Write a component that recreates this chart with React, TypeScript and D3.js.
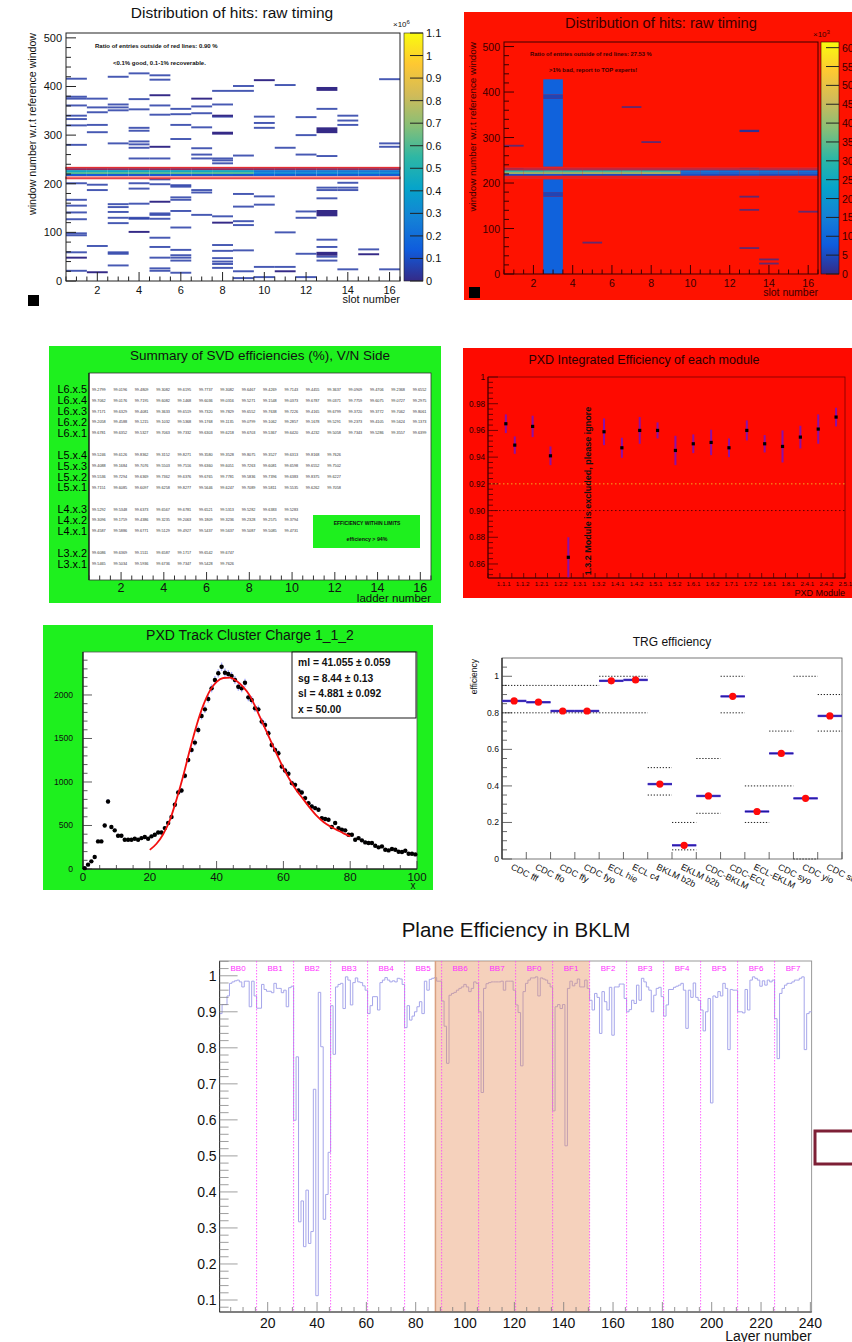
import React from 'react';
import * as d3 from 'd3';

const FONT = '"Liberation Sans", Arial, Helvetica, sans-serif';

// ROOT kBird palette stops
const birdColors = ['#352a87', '#0f5cdd', '#1481d6', '#06a4ca', '#2eb7a4', '#87bf77', '#d1bb59', '#fec832', '#f9fb0e'];

// ---------- raw timing panels (slots 1..16, windows in bins of 4) ----------
const bandWindows = [216, 220, 224, 228];

// good run: lower window edge of each sparse hit, per slot
const goodHits = [
  [414, 377, 373, 359, 338, 331, 318, 278, 199, 165, 153, 139, 125, 96, 92, 57, 19],
  [373, 355, 345, 319, 304, 196, 185, 70],
  [418, 361, 355, 349, 281, 156, 150, 140, 128, 117, 57, 54, 30],
  [425, 372, 351, 313, 307, 285, 279, 272, 250, 199, 188, 157, 128, 126],
  [421, 412, 359, 340, 250, 207, 197, 137, 134, 126, 87, 68, 46, 24, 19],
  [352, 341, 319, 290, 195, 192, 170, 165, 142, 108, 62, 51, 46, 40, 15],
  [357, 343, 314, 271, 258, 250, 185, 180, 134],
  [389, 361, 336, 250, 246, 240, 131, 72, 60, 45, 38, 33, 25],
  [399, 389, 256, 177, 151, 121, 113, 61, 18, 4],
  [336, 323, 313, 172, 155, 27, 6],
  [401, 272, 98, 27],
  [335, 298, 258, 141, 128, 54, 6],
  [352, 255, 190, 185, 168, 83, 68, 48, 40],
  [338, 328, 319, 200, 190, 185, 22],
  [63],
  [413, 281, 274, 22],
];
// [slot, from, to] denser hits
const goodThick = [
  [1, 46, 50], [2, 16, 20], [4, 99, 103], [5, 380, 384], [5, 274, 278], [5, 161, 165],
  [7, 373, 377], [8, 338, 342], [8, 301, 307], [8, 118, 122], [10, 411, 415], [11, 18, 22],
  [13, 391, 399], [13, 304, 316], [13, 133, 146], [13, 52, 60], [15, 53, 57],
];
// rows = bandWindows, values x10^6
const goodBand = [
  [0.12, 0.13, 0.12, 0.11, 0.12, 0.13, 0.12, 0.12, 0.11, 0.14, 0.13, 0.12, 0.13, 0.12, 0.13, 0.12],
  [0.6, 0.62, 0.6, 0.61, 0.6, 0.62, 0.6, 0.61, 0.6, 0.3, 0.31, 0.3, 0.32, 0.3, 0.31, 0.3],
  [0.45, 0.46, 0.44, 0.45, 0.46, 0.45, 0.44, 0.46, 0.45, 0.24, 0.25, 0.24, 0.26, 0.25, 0.24, 0.25],
  [0.03, 0.03, 0.04, 0.03, 0.03, 0.03, 0.03, 0.04, 0.03, 0.03, 0.03, 0.03, 0.04, 0.03, 0.03, 0.03],
];

// bad run
const badHits = [
  [280, 229], [], [], [], [67], [], [365], [288], [], [], [], [],
  [230, 168, 139, 55], [30, 21], [], [135],
];
const badThick = [[13, 312, 317]];
// [slot, from, to, value x10^3]
const badColumn = [
  [3, 0, 170, 9], [3, 170, 180, 4], [3, 180, 208, 9],
  [3, 236, 385, 9], [3, 385, 395, 4], [3, 395, 428, 9],
];
const badBand = [
  [5, 5, 6, 5, 5, 5, 5, 5, 5, 6, 5, 5, 6, 5, 5, 5],
  [40, 40, 40, 40, 41, 40, 40, 41, 40, 11, 11, 10, 12, 11, 11, 10],
  [32, 32, 33, 32, 32, 32, 33, 32, 32, 13, 13, 12, 14, 13, 13, 12],
  [3, 3, 4, 3, 3, 3, 3, 3, 3, 3, 3, 3, 4, 3, 3, 3],
];

// ---------- SVD summary ----------
const svdL6 = [
  ['99.6781', '99.6352', '99.5327', '99.7063', '99.7332', '99.6303', '99.6218', '99.6703', '99.5367', '99.6420', '99.4232', '99.5058', '99.7343', '99.5286', '99.3557', '99.6399'],
  ['99.2058', '99.4588', '99.1215', '99.1032', '99.5368', '99.1768', '99.1135', '99.0799', '99.1062', '99.2857', '99.1678', '99.5291', '99.2373', '99.4105', '99.5624', '99.1373'],
  ['99.7171', '99.6329', '99.4081', '99.3633', '99.6519', '99.7320', '99.7829', '99.6552', '99.7638', '99.7226', '99.4165', '99.6799', '99.3720', '99.3772', '99.7062', '99.8061'],
  ['99.7062', '99.0176', '99.7195', '99.6082', '99.1468', '99.6036', '99.0316', '99.5271', '99.1548', '99.0373', '99.6787', '99.0371', '99.7759', '99.6075', '99.0727', '99.2975'],
  ['99.2799', '99.0196', '99.4809', '99.3082', '99.6195', '99.7737', '99.3082', '99.6467', '99.4269', '99.7143', '99.4455', '99.3637', '99.0909', '99.4706', '99.2368', '99.6552'],
];
const svdL5 = [
  ['99.7151', '99.6085', '99.6097', '99.6258', '99.8277', '99.5646', '99.6247', '99.7089', '99.5811', '99.5535', '99.6262', '99.7058'],
  ['99.5536', '99.7294', '99.6369', '99.7362', '99.6376', '99.6765', '99.7781', '99.5836', '99.7396', '99.6383', '99.8375', '99.6227'],
  ['99.4088', '99.1684', '99.7076', '99.5503', '99.7516', '99.6360', '99.6051', '99.7263', '99.6081', '99.6598', '99.6552', '99.7502'],
  ['99.5246', '99.6126', '99.8362', '99.3152', '99.8271', '99.3580', '99.3528', '99.8075', '99.3527', '99.6313', '99.8168', '99.7626'],
];
const svdL4 = [
  ['99.4587', '99.5886', '99.6771', '99.5129', '99.4927', '99.5437', '99.5637', '99.5087', '99.5085', '99.4731'],
  ['99.3096', '99.1759', '99.4386', '99.3235', '99.2063', '99.1809', '99.3236', '99.2328', '99.2575', '99.3794'],
  ['99.5292', '99.5348', '99.6373', '99.6567', '99.6781', '99.6521', '99.5313', '99.5282', '99.6383', '99.5283'],
];
const svdL3 = [
  ['99.5465', '99.5034', '99.5936', '99.6736', '99.7347', '99.5428', '99.7626'],
  ['99.6086', '99.6369', '99.1511', '99.6587', '99.1717', '99.6542', '99.6747'],
];
const svdLayerNames = ['L3', 'L4', 'L5', 'L6'];

// ---------- PXD efficiency ----------
const pxdLabels = ['1.1.1', '1.1.2', '1.2.1', '1.2.2', '1.3.1', '1.3.2', '1.4.1', '1.4.2', '1.5.1', '1.5.2', '1.6.1', '1.6.2', '1.7.1', '1.7.2', '1.8.1', '1.8.1', '2.4.1', '2.4.2', '2.5.1'];
const pxdPos = [1, 1.5, 2.5, 3.5, 4.5, 6.5, 7.5, 8.5, 9.5, 10.5, 11.5, 12.5, 13.5, 14.5, 15.5, 16.5, 17.5, 18.5, 19.5];
const pxdEff = [0.965, 0.949, 0.963, 0.941, 0.865, 0.959, 0.947, 0.960, 0.960, 0.945, 0.950, 0.951, 0.947, 0.960, 0.950, 0.948, 0.955, 0.961, 0.970];
const pxdErr = [0.007, 0.0065, 0.008, 0.007, 0.015, 0.010, 0.0075, 0.010, 0.006, 0.011, 0.007, 0.0095, 0.007, 0.0075, 0.0065, 0.012, 0.0085, 0.011, 0.007];

// ---------- PXD cluster charge ----------
const chargeCounts = [
  10, 50, 88, 138, 317, 317, 500, 776, 482, 444,
  382, 382, 337, 337, 337, 348, 337, 355, 367, 348,
  375, 394, 420, 420, 470, 528, 597, 738, 880, 902,
  1071, 1254, 1369, 1453, 1598, 1759, 1835, 1954, 2076, 2172,
  2249, 2325, 2256, 2241, 2218, 2172, 2095, 2076, 2141, 1973,
  1943, 1847, 1835, 1694, 1656, 1560, 1426, 1369, 1331, 1178,
  1132, 1094, 987, 967, 902, 880, 815, 757, 719, 700,
  681, 585, 574, 566, 482, 528, 470, 451, 444, 394,
  394, 337, 355, 329, 306, 298, 298, 268, 249, 260,
  222, 214, 229, 222, 199, 195, 210, 176, 176, 168,
];
const fitX = [20, 22, 24, 26, 28, 30, 32, 34, 36, 38, 40, 42, 44, 46, 48, 50, 52, 54, 56, 58, 60, 62, 64, 66, 68, 70, 72, 74, 76, 78, 80];
const fitY = [220, 290, 400, 560, 800, 1070, 1370, 1650, 1880, 2050, 2150, 2195, 2200, 2160, 2090, 1990, 1830, 1660, 1490, 1320, 1160, 1020, 900, 800, 700, 610, 540, 490, 450, 410, 375];
const fitStats = ['ml =  41.055 \u00b1 0.059', 'sg =  8.44 \u00b1 0.13', 'sl =  4.881 \u00b1 0.092', 'x =  50.00'];

// ---------- TRG efficiency ----------
const trgLabels = ['CDC fff', 'CDC ffo', 'CDC ffy', 'CDC fyo', 'ECL hie', 'ECL c4', 'BKLM b2b', 'EKLM b2b', 'CDC-BKLM', 'CDC-ECL', 'ECL-EKLM', 'CDC syo', 'CDC yio', 'CDC stt'];
const trgEff = [0.865, 0.858, 0.81, 0.81, 0.975, 0.98, 0.41, 0.075, 0.345, 0.89, 0.26, 0.578, 0.332, 0.783];
const trgUpper = [0.95, 0.95, 0.95, 0.95, 1, 1, 0.5, 0.2, 0.55, 1, 0.4, 0.7, 1, 0.9];
const trgLower = [0.8, 0.8, 0.8, 0.8, 0.8, 0.8, 0.35, 0.05, 0.25, 0.8, 0.2, 0.4, 0, 0.7];

// ---------- BKLM plane efficiency, 15 layers per sector ----------
const bklmSectors = ['BB0', 'BB1', 'BB2', 'BB3', 'BB4', 'BB5', 'BB6', 'BB7', 'BF0', 'BF1', 'BF2', 'BF3', 'BF4', 'BF5', 'BF6', 'BF7'];
const bklmSectorEff = [
  [0.895, 0.92, 0.92, 0.944, 0.979, 0.983, 0.986, 0.988, 0.983, 0.969, 0.985, 0.985, 0.914, 0.985, 0.944],
  [0.91, 0.91, 0.976, 0.962, 0.957, 0.957, 0.953, 0.979, 0.965, 0.965, 0.953, 0.96, 0.914, 0.967, 0.971],
  [0.599, 0.775, 0.317, 0.375, 0.248, 0.405, 0.257, 0.29, 0.685, 0.112, 0.954, 0.803, 0.324, 0.393, 0.51],
  [0.917, 0.782, 0.969, 0.976, 0.979, 0.909, 0.997, 0.988, 0.919, 0.981, 0.994, 0.983, 0.981, 0.972, 0.96],
  [0.895, 0.917, 0.942, 0.942, 0.905, 0.981, 0.988, 0.995, 0.988, 0.983, 0.986, 0.983, 0.993, 0.991, 0.976],
  [0.856, 0.917, 0.877, 0.888, 0.9, 0.914, 0.928, 0.895, 0.985, 0.96, 0.99, 0.993, 0.995, 0.985, 0.985],
  [0.93, 0.86, 0.757, 0.946, 0.951, 0.954, 0.96, 0.965, 0.969, 0.976, 0.969, 0.956, 0.965, 0.983, 0.979],
  [0.9, 0.676, 0.965, 0.978, 0.981, 0.983, 0.983, 0.983, 0.983, 0.985, 0.96, 0.985, 0.985, 0.985, 0.96],
  [0.919, 0.898, 0.75, 0.956, 0.979, 0.988, 0.994, 0.994, 0.997, 0.944, 0.994, 0.991, 0.988, 0.979, 0.969],
  [0.625, 0.914, 0.92, 0.909, 0.92, 0.528, 0.965, 0.985, 0.972, 0.979, 0.991, 0.969, 0.969, 0.988, 0.965],
  [0.932, 0.905, 0.951, 0.94, 0.84, 0.956, 0.928, 0.905, 0.968, 0.835, 0.969, 0.969, 0.977, 0.977, 0.937],
  [0.9, 0.906, 0.932, 0.923, 0.974, 0.932, 0.993, 0.983, 0.969, 0.96, 0.9, 0.946, 0.965, 0.968, 0.942],
  [0.888, 0.919, 0.962, 0.962, 0.968, 0.971, 0.974, 0.979, 0.96, 0.854, 0.96, 0.94, 0.98, 0.94, 0.932],
  [0.905, 0.847, 0.9, 0.937, 0.647, 0.944, 0.94, 0.956, 0.944, 0.979, 0.965, 0.795, 0.962, 0.96, 0.96],
  [0.9, 0.9, 0.897, 0.962, 0.905, 0.988, 0.997, 0.993, 0.988, 0.971, 0.986, 0.974, 0.988, 0.983, 0.988],
  [0.881, 0.77, 0.951, 0.965, 0.974, 0.979, 0.979, 0.983, 0.988, 0.988, 0.993, 0.997, 0.795, 0.895, 0.9],
];
const bklmShaded = [88, 150.5];

type RawCfg = {
  id: string;
  bg?: string;
  box?: number[];
  x0: number; x1: number; y0: number; y1: number;
  cb0: number; cb1: number; zMax: number; zStep: number;
  hits: number[][]; hitZ: number; hitOpacity: number;
  thick: number[][]; thickZ: number;
  band: number[][]; column: number[][];
  ink: string; frameInk: string;
  title: string; titleX: number; titleY: number; titleSize: number;
  expoBase: string; expoPow: string; expoX: number; expoY: number;
  notes: string[]; noteX: number[]; noteY: number[]; noteSize: number;
  yTitleX: number; yTitleSize: number;
  square: number[];
  tickSize: number;
};

function RawTiming({ c }: { c: RawCfg }) {
  const x = d3.scaleLinear().domain([0.5, 16.5]).range([c.x0, c.x1]);
  const y = d3.scaleLinear().domain([0, 510]).range([c.y1, c.y0]);
  const z = d3.scaleLinear().domain([0, c.zMax]).range([c.y1, c.y0]);
  const color = d3.scaleLinear<string>()
    .domain(birdColors.map((_, i) => (c.zMax * i) / 8))
    .range(birdColors)
    .clamp(true);

  const cell = (slot: number, lo: number, hi: number, v: number, key: string, op = 1) => (
    <rect key={key} x={x(slot - 0.5)} width={x(slot + 0.5) - x(slot - 0.5)}
      y={y(hi)} height={y(lo) - y(hi)} fill={color(v)} opacity={op} />
  );

  const yMinor = d3.range(0, 510, 20);
  const xMinor = d3.range(0.5, 16.51, 0.5);
  const xMajor = d3.range(2, 17, 2);
  const zMajor = d3.range(0, c.zMax + 1e-9, c.zStep);
  const fmtZ = (v: number) => String(+v.toFixed(1));

  return (
    <g>
      {c.box && <rect x={c.box[0]} y={c.box[1]} width={c.box[2]} height={c.box[3]} fill={c.bg} />}
      <text x={c.titleX} y={c.titleY} fontSize={c.titleSize} textAnchor="middle" fill={c.ink}>{c.title}</text>

      {c.column.map(([s, lo, hi, v], i) => cell(s, lo, hi, v, 'col' + i))}
      {c.band.map((row, r) => row.map((v, i) => cell(i + 1, bandWindows[r], bandWindows[r] + 4, v, `b${r}-${i}`)))}
      {c.hits.map((ws, i) => ws.map((w, j) => cell(i + 1, w, w + 4, c.hitZ, `h${i}-${j}`, c.hitOpacity)))}
      {c.thick.map(([s, lo, hi], i) => cell(s, lo, hi, c.thickZ, 't' + i))}

      {/* red acceptance lines */}
      {[212, 232].map(w => (
        <rect key={w} x={c.x0} width={c.x1 - c.x0} y={y(w + 1.6)} height={y(w - 1.6) - y(w + 1.6)}
          fill="none" stroke="#e3262a" strokeWidth={1.1} />
      ))}

      <rect x={c.x0} y={c.y0} width={c.x1 - c.x0} height={c.y1 - c.y0} fill="none" stroke={c.frameInk} strokeWidth={1} />

      {yMinor.map(v => (
        <line key={v} x1={c.x0} x2={c.x0 + (v % 100 === 0 ? 10 : 5)} y1={y(v)} y2={y(v)} stroke={c.frameInk} />
      ))}
      {d3.range(0, 501, 100).map(v => (
        <text key={v} x={c.x0 - 4} y={y(v) + 4} fontSize={c.tickSize} textAnchor="end" fill={c.ink}>{v}</text>
      ))}
      {xMinor.map(v => (
        <line key={v} x1={x(v)} x2={x(v)} y1={c.y1} y2={c.y1 - (v % 2 === 0 ? 9 : 4.5)} stroke={c.frameInk} />
      ))}
      {xMajor.map(v => (
        <text key={v} x={x(v)} y={c.y1 + 13} fontSize={c.tickSize} textAnchor="middle" fill={c.ink}>{v}</text>
      ))}
      <text x={c.x1} y={c.y1 + 22} fontSize={c.tickSize} textAnchor="end" fill={c.ink}>slot number</text>
      <text transform={`translate(${c.yTitleX},${c.y0}) rotate(-90)`} fontSize={c.yTitleSize} textAnchor="end" fill={c.ink}>
        window number w.r.t reference window
      </text>

      {c.notes.map((t, i) => (
        <text key={i} x={c.noteX[i]} y={c.noteY[i]} fontSize={c.noteSize} fontWeight="bold" fill={c.ink}>{t}</text>
      ))}

      {/* colour bar */}
      <defs>
        <linearGradient id={c.id} x1="0" y1="1" x2="0" y2="0">
          {birdColors.map((col, i) => <stop key={i} offset={i / 8} stopColor={col} />)}
        </linearGradient>
      </defs>
      <rect x={c.cb0} y={c.y0} width={c.cb1 - c.cb0} height={c.y1 - c.y0} fill={`url(#${c.id})`} stroke={c.frameInk} strokeWidth={0.6} />
      {zMajor.map(v => (
        <g key={v}>
          <line x1={c.cb1} x2={c.cb1 - 13} y1={z(v)} y2={z(v)} stroke="#222" strokeWidth={1} />
          <text x={c.cb1 + 3} y={z(v) + 4} fontSize={c.tickSize} fill={c.ink}>{fmtZ(v)}</text>
        </g>
      ))}
      <text x={c.expoX} y={c.expoY} fontSize={8} fill={c.ink}>
        {c.expoBase}<tspan dy={-3.5} fontSize={6}>{c.expoPow}</tspan>
      </text>
      <rect x={c.square[0]} y={c.square[1]} width={11} height={11} fill="#000" />
    </g>
  );
}

function SvdSummary() {
  const x = d3.scaleLinear().domain([0.5, 16.5]).range([89, 431]);
  const y = d3.scaleLinear().domain([-0.5, 18.5]).range([580, 373]);
  const layers = [svdL3, svdL4, svdL5, svdL6];
  let base = 1;
  const rows: { label: string; pos: number; vals: string[] }[] = [];
  layers.forEach((layer, li) => {
    layer.forEach((vals, si) => rows.push({ label: `${svdLayerNames[li]}.x.${si + 1}`, pos: base + si, vals }));
    base += layer.length + 1;
  });
  const green = '#1ef01e';
  return (
    <g>
      <rect x={49} y={346} width={392} height={257} fill={green} />
      <text x={260} y={360} fontSize={13.5} textAnchor="middle" fill="#111">Summary of SVD efficiencies (%), V/N Side</text>
      <rect x={89} y={373} width={342} height={207} fill="#fff" stroke="#333" strokeWidth={0.8} />
      <line x1={89} x2={89} y1={373} y2={580} stroke="#000" />
      {rows.map(r => (
        <g key={r.label}>
          <text x={87} y={y(r.pos) + 4} fontSize={10.8} textAnchor="end" fill="#000">{r.label}</text>
          {r.vals.map((v, i) => (
            <text key={i} x={x(i + 0.5) + 3} y={y(r.pos) + 1.4} fontSize={3.8} fill="#333">{v}</text>
          ))}
        </g>
      ))}
      {d3.range(0.5, 16.51, 0.5).map(v => (
        <line key={v} x1={x(v)} x2={x(v)} y1={580} y2={580 - (v % 2 === 0 ? 8 : 4.5)} stroke="#333" />
      ))}
      {d3.range(2, 17, 2).map(v => (
        <text key={v} x={x(v)} y={591.5} fontSize={12.5} textAnchor="middle" fill="#111">{v}</text>
      ))}
      <text x={431} y={601.5} fontSize={11.5} textAnchor="end" fill="#111">ladder number</text>
      <rect x={313} y={515} width={107} height={33} fill={green} />
      <text x={367} y={525} fontSize={5} fontWeight="bold" textAnchor="middle" fill="#111">EFFICIENCY WITHIN LIMITS</text>
      <text x={367} y={541} fontSize={5.3} fontWeight="bold" textAnchor="middle" fill="#111">efficiency &gt; 94%</text>
    </g>
  );
}

function PxdEfficiency() {
  const x0 = 488, x1 = 845, y0 = 377, y1 = 578;
  const x = d3.scaleLinear().domain([0, 20]).range([x0, x1]);
  const y = d3.scaleLinear().domain([0.8495, 1.0]).range([y1, y0]);
  const lab = d3.scalePoint<number>().domain(d3.range(pxdLabels.length)).range([503.7, 845.3]);
  const ink = '#2a0000';
  return (
    <g>
      <rect x={463} y={348} width={389} height={250} fill="#fe0a00" />
      <text x={644} y={364} fontSize={12.5} textAnchor="middle" fill={ink}>PXD Integrated Efficiency of each module</text>
      <rect x={x0} y={y0} width={x1 - x0} height={y1 - y0} fill="none" stroke="#7a0000" strokeWidth={0.8} />
      <line x1={x0} x2={x0} y1={y0} y2={y1} stroke="#3a0000" />
      <line x1={x0} x2={x1} y1={y1} y2={y1} stroke="#3a0000" />
      {d3.range(0.852, 1.0001, 0.004).map(v => {
        const major = Math.abs(v * 50 - Math.round(v * 50)) < 1e-6;
        return <line key={v} x1={x0} x2={x0 + (major ? 10 : 5)} y1={y(v)} y2={y(v)} stroke="#4a0000" strokeWidth={0.8} />;
      })}
      {d3.range(0.86, 1.0001, 0.02).map(v => (
        <text key={v} x={x0 - 3} y={y(v) + 3} fontSize={8.2} textAnchor="end" fill={ink}>{v > 0.999 ? '1' : v.toFixed(2)}</text>
      ))}
      {d3.range(0, 20.001, 2 / 3).map(v => (
        <line key={v} x1={x(v)} x2={x(v)} y1={y1} y2={y1 - 5} stroke="#4a0000" strokeWidth={0.8} />
      ))}
      <line x1={x0 + 3} x2={x1} y1={y(0.92)} y2={y(0.92)} stroke="#f0b020" strokeWidth={1} strokeDasharray="1.5,2.5" />
      <line x1={x0 + 3} x2={x1} y1={y(0.9)} y2={y(0.9)} stroke="#5a0000" strokeWidth={1} strokeDasharray="1.5,2.5" />
      {pxdEff.map((v, i) => (
        <g key={i}>
          <line x1={x(pxdPos[i])} x2={x(pxdPos[i])} y1={y(Math.min(1, v + pxdErr[i]))} y2={y(Math.max(0.8495, v - pxdErr[i]))}
            stroke="#8a10a8" strokeWidth={2} />
          <rect x={x(pxdPos[i]) - 1.6} y={y(v) - 1.6} width={3.2} height={3.2} fill="#000" />
        </g>
      ))}
      <text transform={`translate(590.5,491) rotate(-90)`} fontSize={9} fontWeight="bold" textAnchor="middle" fill="#111">
        1.3.2 Module is excluded, please ignore
      </text>
      {pxdLabels.map((t, i) => (
        <text key={i} x={lab(i)} y={586} fontSize={6.2} textAnchor="middle" fill={ink}>{t}</text>
      ))}
      <text x={845} y={596} fontSize={9} textAnchor="end" fill={ink}>PXD Module</text>
    </g>
  );
}

function ClusterCharge() {
  const x0 = 83, x1 = 417, y0 = 652, y1 = 869;
  const x = d3.scaleLinear().domain([0, 100]).range([x0, x1]);
  const y = d3.scaleLinear().domain([0, 2494]).range([y1, y0]);
  const fit = d3.line<number>().x((_, i) => x(fitX[i])).y(d => y(d)).curve(d3.curveMonotoneX);
  return (
    <g>
      <rect x={43} y={625} width={390} height={265} fill="#1ef01e" />
      <text x={250} y={640} fontSize={14} textAnchor="middle" fill="#111">PXD Track Cluster Charge 1_1_2</text>
      <rect x={x0} y={y0} width={x1 - x0} height={y1 - y0} fill="#fff" stroke="#555" strokeWidth={0.8} />
      <line x1={x0} x2={x0} y1={y0} y2={y1} stroke="#000" />
      <line x1={x0} x2={x1} y1={y1} y2={y1} stroke="#000" />
      <defs>
        <clipPath id="evclip"><rect x={44.5} y={640} width={30} height={90} /></clipPath>
      </defs>
      <text clipPath="url(#evclip)" transform="translate(49,652) rotate(-90)" fontSize={11} textAnchor="end" fill="#111">Events / ( 1 )</text>
      {d3.range(0, 2494, 100).map(v => (
        <line key={v} x1={x0} x2={x0 + (v % 500 === 0 ? 9 : 4.5)} y1={y(v)} y2={y(v)} stroke="#333" strokeWidth={0.8} />
      ))}
      {d3.range(0, 2001, 500).map(v => (
        <text key={v} x={x0 - 10} y={y(v) + 3} fontSize={8.6} textAnchor="end" fill="#111">{v}</text>
      ))}
      {d3.range(0, 101, 5).map(v => (
        <line key={v} x1={x(v)} x2={x(v)} y1={y1} y2={y1 - (v % 20 === 0 ? 8 : 4)} stroke="#333" strokeWidth={0.8} />
      ))}
      {d3.range(0, 101, 20).map(v => (
        <text key={v} x={x(v)} y={881} fontSize={11.5} textAnchor="middle" fill="#111">{v}</text>
      ))}
      <text x={413} y={889} fontSize={10} textAnchor="middle" fill="#111">x</text>
      {chargeCounts.map((n, i) => {
        const e = Math.sqrt(n);
        return (
          <g key={i} stroke="#a9aeff" strokeWidth={1.3}>
            <line x1={x(i)} x2={x(i + 1)} y1={y(n)} y2={y(n)} />
            <line x1={x(i + 0.5)} x2={x(i + 0.5)} y1={y(n + e)} y2={y(Math.max(0, n - e))} />
          </g>
        );
      })}
      {chargeCounts.map((n, i) => (
        <circle key={i} cx={x(i + 0.5)} cy={y(n)} r={2.2} fill="#000" />
      ))}
      <path d={fit(fitY) || ''} fill="none" stroke="#f21010" strokeWidth={1.8} />
      <rect x={292} y={652} width={124} height={66} fill="#fff" stroke="#000" strokeWidth={0.9} />
      {fitStats.map((t, i) => (
        <text key={i} x={298} y={666 + i * 15.5} fontSize={10.3} fontWeight="bold" fill="#111">{t}</text>
      ))}
    </g>
  );
}

function TrgEfficiency() {
  const x0 = 502, x1 = 842, y0 = 658, y1 = 859;
  const x = d3.scaleBand<string>().domain(trgLabels).range([x0, x1]);
  const y = d3.scaleLinear().domain([0, 1.1]).range([y1, y0]);
  const bw = x.bandwidth();
  return (
    <g>
      <text x={672} y={646} fontSize={12} textAnchor="middle" fill="#111">TRG efficiency</text>
      <rect x={x0} y={y0} width={x1 - x0} height={y1 - y0} fill="#fff" stroke="#555" strokeWidth={0.8} />
      <line x1={x0} x2={x0} y1={y0} y2={y1} stroke="#000" />
      <text transform={`translate(477,${y0 + 1}) rotate(-90)`} fontSize={8.5} textAnchor="end" fill="#111">efficiency</text>
      {d3.range(0, 1.1, 0.05).map(v => {
        const major = Math.abs(v * 5 - Math.round(v * 5)) < 1e-6;
        return <line key={v} x1={x0} x2={x0 + (major ? 10 : 5)} y1={y(v)} y2={y(v)} stroke="#444" strokeWidth={0.8} />;
      })}
      {d3.range(0, 1.01, 0.2).map(v => (
        <text key={v} x={x0 - 3} y={y(v) + 3} fontSize={8.6} textAnchor="end" fill="#111">{String(+v.toFixed(1))}</text>
      ))}
      {trgLabels.map(t => (
        <line key={t} x1={(x(t) as number) + bw} x2={(x(t) as number) + bw} y1={y1} y2={y1 - 7} stroke="#444" strokeWidth={0.8} />
      ))}
      {trgLabels.map((t, i) => (
        <g key={t} stroke="#222" strokeWidth={1} strokeDasharray="1.3,1.7">
          <line x1={x(t)} x2={(x(t) as number) + bw} y1={y(trgUpper[i])} y2={y(trgUpper[i])} />
          <line x1={x(t)} x2={(x(t) as number) + bw} y1={y(trgLower[i])} y2={y(trgLower[i])} />
        </g>
      ))}
      {trgLabels.map((t, i) => (
        <g key={t}>
          <line x1={x(t)} x2={(x(t) as number) + bw} y1={y(trgEff[i])} y2={y(trgEff[i])} stroke="#5a3ad6" strokeWidth={2.4} />
          <line x1={x(t)} x2={(x(t) as number) + bw} y1={y(trgEff[i])} y2={y(trgEff[i])} stroke="#1c1c9a" strokeWidth={1} />
          <circle cx={(x(t) as number) + bw / 2} cy={y(trgEff[i])} r={3.6} fill="#ff0a0a" />
        </g>
      ))}
      {trgLabels.map(t => (
        <text key={t} transform={`translate(${(x(t) as number) + bw / 2 - 4},869) rotate(26)`} fontSize={9} fill="#111">{t}</text>
      ))}
    </g>
  );
}

function BklmEfficiency() {
  const x0 = 219.6, x1 = 811.6, y0 = 961, y1 = 1312;
  const x = d3.scaleLinear().domain([0.5, 240.5]).range([x0, x1]);
  const y = d3.scaleLinear().domain([0.0667, 1.041]).range([y1, y0]);
  const eff = bklmSectorEff.flat();
  const pts: [number, number][] = eff.map((v, i) => [i + 0.5, v]);
  pts.push([240.5, eff[eff.length - 1]]);
  const step = d3.line<[number, number]>().x(d => x(d[0])).y(d => y(d[1])).curve(d3.curveStepAfter);
  return (
    <g>
      <text x={516} y={937} fontSize={20.5} textAnchor="middle" fill="#111">Plane Efficiency in BKLM</text>
      <rect x={x0} y={y0} width={x1 - x0} height={y1 - y0} fill="#fff" stroke="#999" strokeWidth={1} />
      <path d={step(pts) || ''} fill="none" stroke="#a6a6ea" strokeWidth={1} />
      <rect x={x(bklmShaded[0])} y={y0} width={x(bklmShaded[1]) - x(bklmShaded[0])} height={y1 - y0}
        fill="rgb(232,148,100)" opacity={0.43} />
      <line x1={x(bklmShaded[0])} x2={x(bklmShaded[0])} y1={y0} y2={y1} stroke="#d9a080" strokeWidth={1.5} />
      {d3.range(1, 16).map(k => (
        <line key={k} x1={x(15 * k + 0.5)} x2={x(15 * k + 0.5)} y1={y0} y2={y1} stroke="#ff40ff" strokeWidth={0.8} strokeDasharray="1.5,1.5" />
      ))}
      {bklmSectors.map((s, k) => (
        <text key={s} x={x(15 * k + 8)} y={971} fontSize={8} textAnchor="middle" fill="#ff30ff">{s}</text>
      ))}
      <line x1={x0} x2={x0} y1={y0} y2={y1} stroke="#333" />
      <line x1={x0} x2={x1} y1={y1} y2={y1} stroke="#333" />
      {d3.range(0.08, 1.041, 0.02).map(v => {
        const major = Math.abs(v * 10 - Math.round(v * 10)) < 1e-6;
        return <line key={v} x1={x0} x2={x0 + (major ? 18 : 9)} y1={y(v)} y2={y(v)} stroke="#888" strokeWidth={0.8} />;
      })}
      {d3.range(0.1, 1.001, 0.1).map(v => (
        <text key={v} x={x0 - 3} y={y(v) + 5} fontSize={14} textAnchor="end" fill="#111">{String(+v.toFixed(1))}</text>
      ))}
      {d3.range(5, 241, 5).map(v => (
        <line key={v} x1={x(v)} x2={x(v)} y1={y1} y2={y1 - (v % 20 === 0 ? 10 : 5)} stroke="#777" strokeWidth={0.8} />
      ))}
      {d3.range(20, 241, 20).map(v => (
        <text key={v} x={x(v)} y={1328} fontSize={14} textAnchor="middle" fill="#111">{v}</text>
      ))}
      <text x={x1} y={1341} fontSize={14} textAnchor="end" fill="#111">Layer number</text>
      <rect x={815} y={1131} width={50} height={33} fill="none" stroke="#7d1f35" strokeWidth={3} />
    </g>
  );
}

const goodCfg: RawCfg = {
  id: 'gradGood',
  x0: 66, x1: 400, y0: 33, y1: 281, cb0: 404, cb1: 423, zMax: 1.1, zStep: 0.1,
  hits: goodHits, hitZ: 0.05, hitOpacity: 0.85, thick: goodThick, thickZ: 0.0,
  band: goodBand, column: [],
  ink: '#111', frameInk: '#222',
  title: 'Distribution of hits: raw timing', titleX: 232, titleY: 18, titleSize: 15.5,
  expoBase: '\u00d710', expoPow: '6', expoX: 393, expoY: 27,
  notes: ['Ratio of entries outside of red lines: 0.90 %', '<0.1% good, 0.1-1% recoverable.'],
  noteX: [95, 113], noteY: [48, 65], noteSize: 6,
  yTitleX: 36, yTitleSize: 10.6, square: [28, 295], tickSize: 11,
};

const badCfg: RawCfg = {
  id: 'gradBad', bg: '#fe1200', box: [464, 12, 388, 288],
  x0: 504, x1: 818, y0: 42, y1: 274, cb0: 821, cb1: 839, zMax: 61.5, zStep: 5,
  hits: badHits, hitZ: 1, hitOpacity: 0.75, thick: badThick, thickZ: 1,
  band: badBand, column: badColumn,
  ink: '#3a0000', frameInk: '#3a0000',
  title: 'Distribution of hits: raw timing', titleX: 661, titleY: 28, titleSize: 14.7,
  expoBase: '\u00d710', expoPow: '3', expoX: 813, expoY: 37,
  notes: ['Ratio of entries outside of red lines: 27.53 %', '>1% bad, report to TOP experts!'],
  noteX: [530, 549], noteY: [56, 72], noteSize: 5.8,
  yTitleX: 476, yTitleSize: 9.9, square: [469, 287], tickSize: 10.5,
};

export default function App() {
  return (
    <svg width={852} height={1342} viewBox="0 0 852 1342" fontFamily={FONT}
      style={{ position: 'absolute', left: 0, top: 0, background: '#fff' }}>
      <rect width={852} height={1342} fill="#fff" />
      <RawTiming c={goodCfg} />
      <RawTiming c={badCfg} />
      <SvdSummary />
      <PxdEfficiency />
      <ClusterCharge />
      <TrgEfficiency />
      <BklmEfficiency />
    </svg>
  );
}
